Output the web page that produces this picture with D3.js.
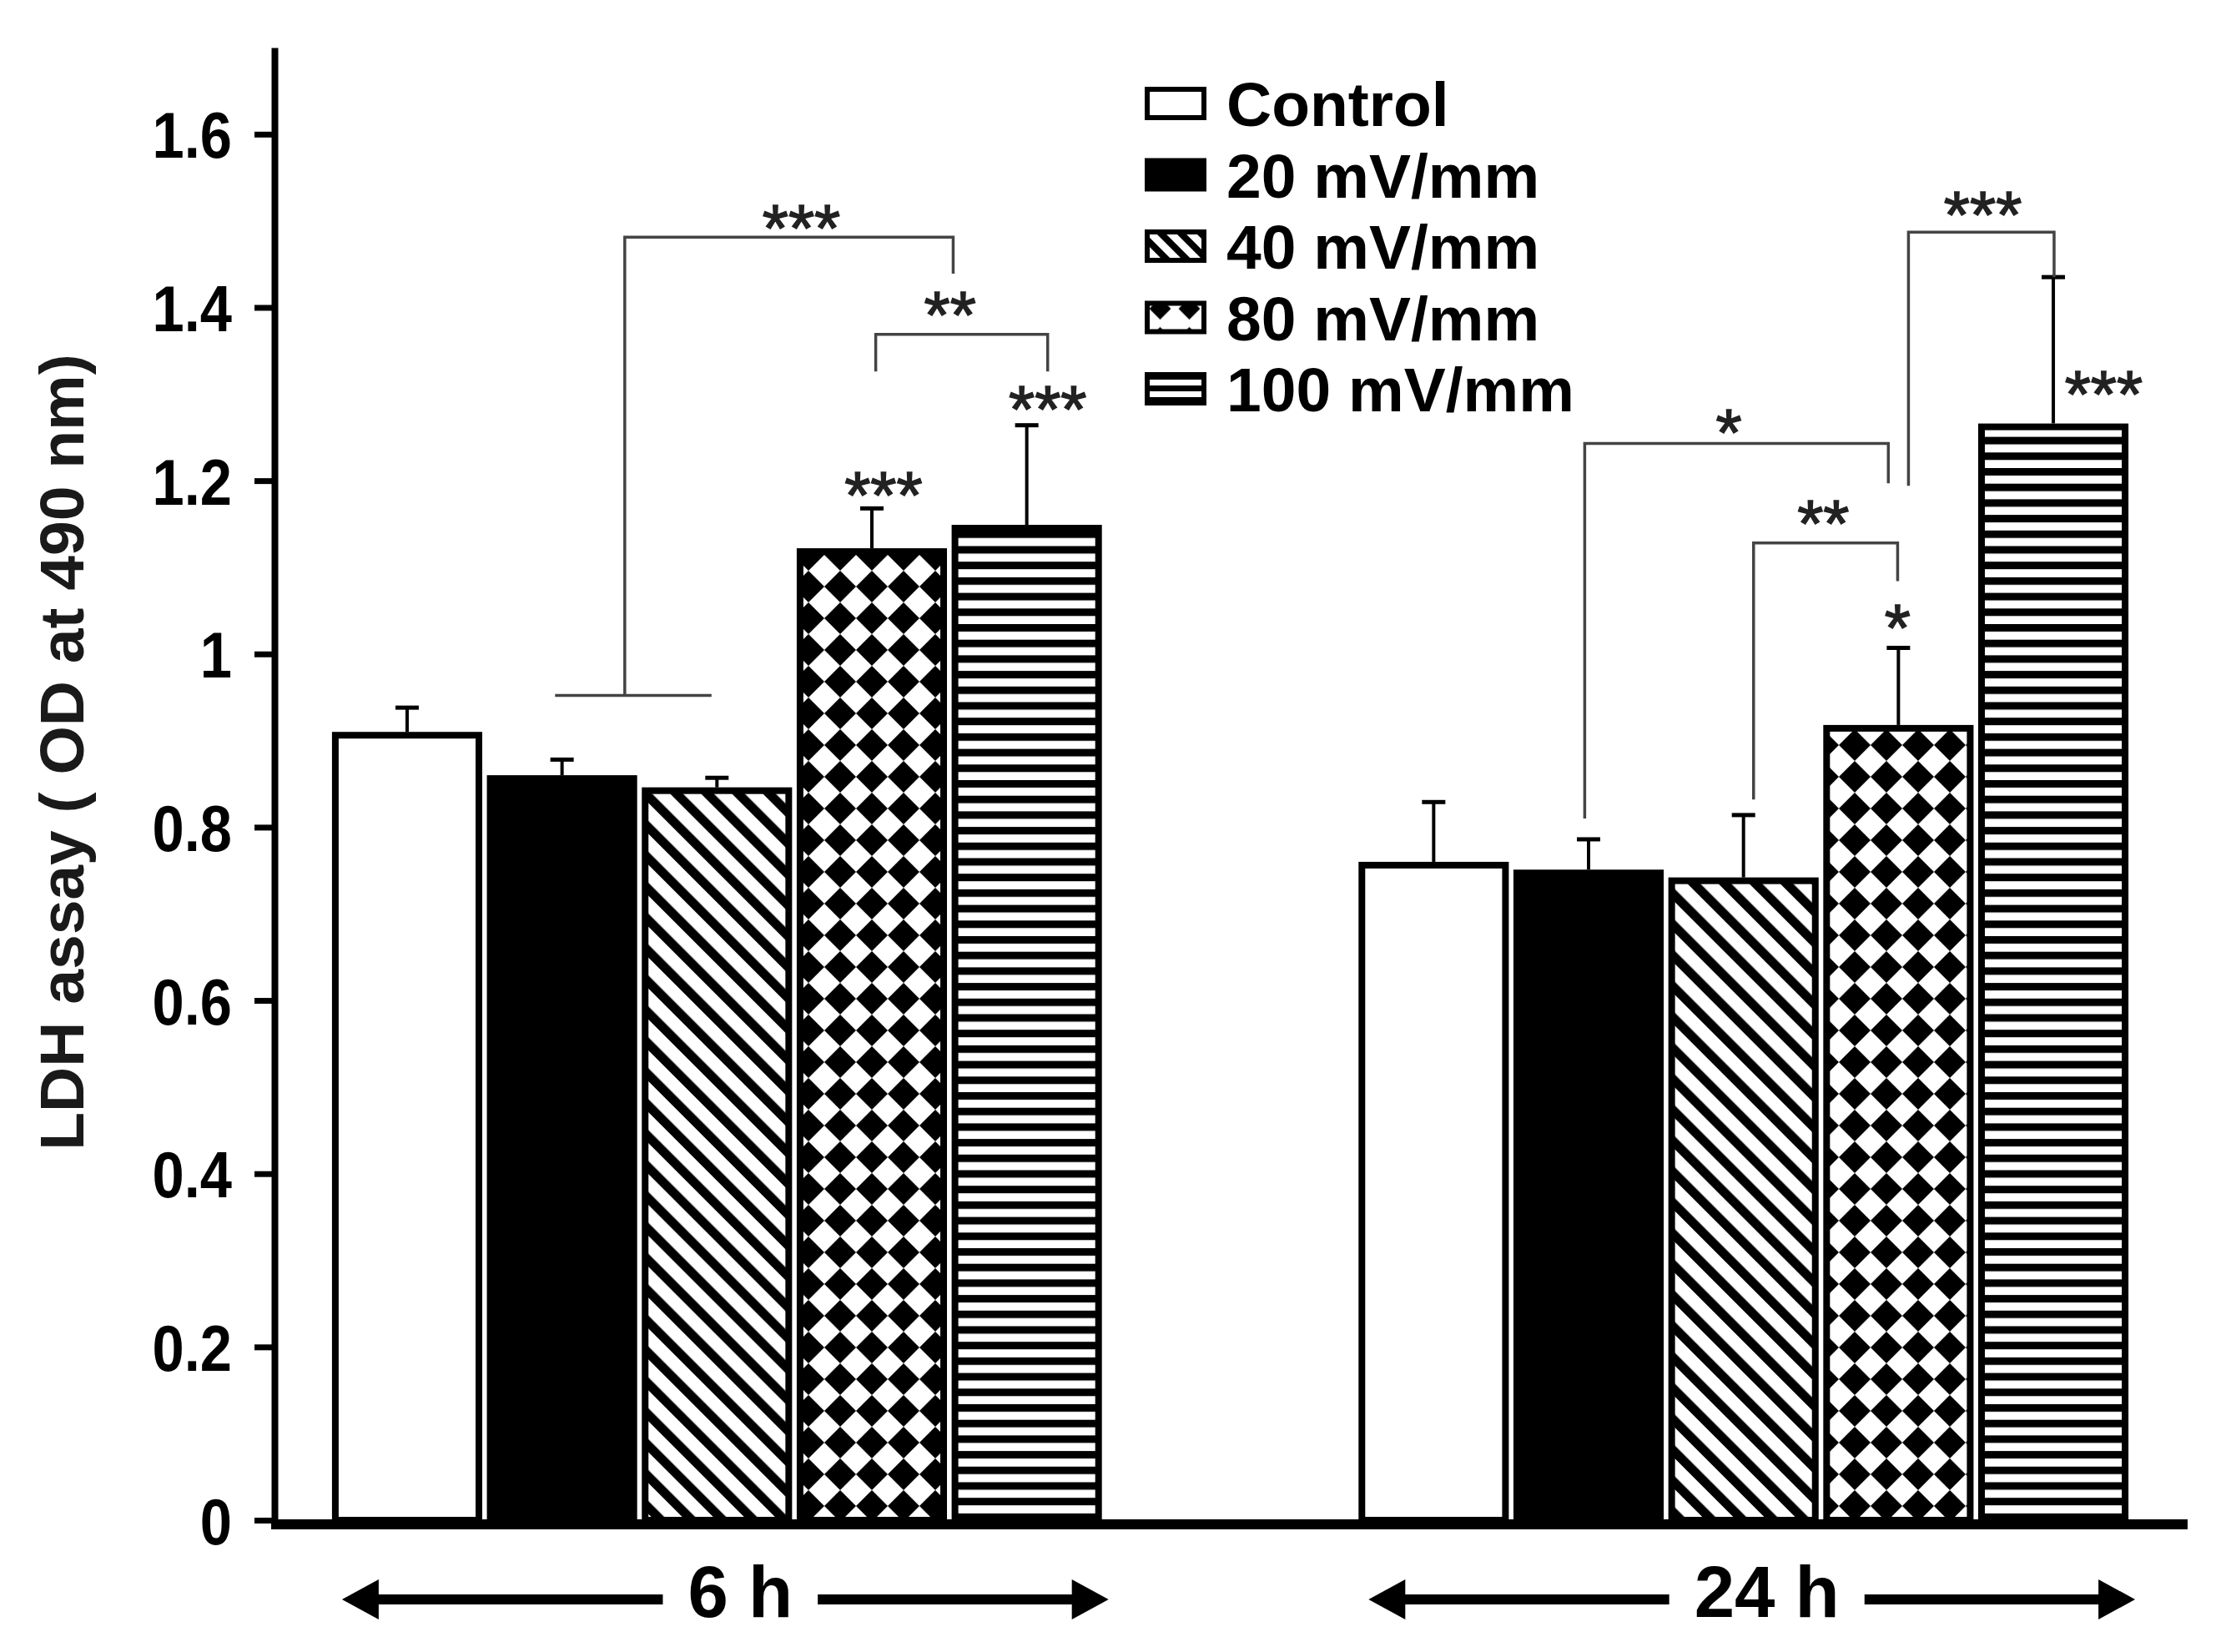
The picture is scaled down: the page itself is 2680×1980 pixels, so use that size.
<!DOCTYPE html>
<html>
<head>
<meta charset="utf-8">
<script src="https://cdn.jsdelivr.net/npm/d3@7"></script>
<style>
  html, body { margin: 0; padding: 0; background: #ffffff; }
  svg { display: block; }
  text { font-family: "Liberation Sans", Arial, Helvetica, sans-serif; }
</style>
</head>
<body>
<script>
// ---------------- DATA ----------------
const groups = ["6 h", "24 h"];
const series = ["Control", "20 mV/mm", "40 mV/mm", "80 mV/mm", "100 mV/mm"];
const values6h  = [0.910, 0.860, 0.846, 1.122, 1.149];
const errors6h  = [0.028, 0.018, 0.011, 0.046, 0.115];
const values24h = [0.760, 0.751, 0.742, 0.918, 1.266];
const errors24h = [0.069, 0.035, 0.072, 0.089, 0.169];
const yTicks = [0, 0.2, 0.4, 0.6, 0.8, 1.0, 1.2, 1.4, 1.6];
const yTickLabels = ["0", "0.2", "0.4", "0.6", "0.8", "1", "1.2", "1.4", "1.6"];
const yLabel = "LDH assay ( OD at 490 nm)";

// significance brackets: x in bar-slot units within group, y in data units
const brackets = [
  { group: "6 h",  xL: 1.89, xR: 4.01, yTop: 1.481, yL: 0.952, yR: 1.439 },
  { group: "6 h",  xL: 3.51, xR: 4.62, yTop: 1.369, yL: 1.326, yR: 1.326 },
  { group: "24 h", xL: 1.46, xR: 3.42, yTop: 1.243, yL: 0.810, yR: 1.197 },
  { group: "24 h", xL: 2.55, xR: 3.48, yTop: 1.128, yL: 0.832, yR: 1.084 },
  { group: "24 h", xL: 3.55, xR: 4.49, yTop: 1.487, yL: 1.194, yR: 1.435 }
];
// horizontal group line under the big 6 h bracket
const groupLines = [ { group: "6 h", x1: 1.44, x2: 2.45, y: 0.952 } ];
// star labels
const stars = [
  { group: "6 h",  x: 3.03, y: 1.509, t: "***" },
  { group: "6 h",  x: 3.99, y: 1.409, t: "**" },
  { group: "6 h",  x: 3.56, y: 1.201, t: "***" },
  { group: "6 h",  x: 4.62, y: 1.300, t: "***" },
  { group: "24 h", x: 2.39, y: 1.273, t: "*" },
  { group: "24 h", x: 3.00, y: 1.168, t: "**" },
  { group: "24 h", x: 3.48, y: 1.048, t: "*" },
  { group: "24 h", x: 4.03, y: 1.524, t: "***" },
  { group: "24 h", x: 4.81, y: 1.317, t: "***" }
];

const data = [];
groups.forEach((g, gi) => {
  const vals = gi === 0 ? values6h : values24h;
  const errs = gi === 0 ? errors6h : errors24h;
  series.forEach((s, si) => data.push({ group: g, series: s, si, value: vals[si], err: errs[si] }));
});

// ---------------- LAYOUT ----------------
const W = 2680, H = 1980;
const svg = d3.select("body").append("svg").attr("width", W).attr("height", H)
  .attr("viewBox", `0 0 ${W} ${H}`);
svg.append("rect").attr("width", W).attr("height", H).attr("fill", "#fff");

const axisX = 329;
const x0 = d3.scaleBand().domain(groups).range([axisX, 2620]).paddingInner(0.25).paddingOuter(0.056);
const x1 = d3.scaleBand().domain(series).range([0, x0.bandwidth()]).paddingInner(0.03);
const y = d3.scaleLinear().domain([0, 1.7]).range([1822, 57]);
const xp = (g, p) => x0(g) + p * x1.step();

// ---------------- PATTERNS ----------------
const defs = svg.append("defs");
function stripePattern(id, period, black, angle) {
  const p = defs.append("pattern").attr("id", id).attr("patternUnits", "userSpaceOnUse")
    .attr("width", period).attr("height", period).attr("patternTransform", `rotate(${angle})`);
  p.append("rect").attr("width", period).attr("height", period).attr("fill", "#fff");
  p.append("rect").attr("width", black).attr("height", period).attr("fill", "#000");
}
function hStripePattern(id, period, black, offY) {
  const p = defs.append("pattern").attr("id", id).attr("patternUnits", "userSpaceOnUse")
    .attr("width", 20).attr("height", period).attr("y", offY || 0);
  p.append("rect").attr("width", 20).attr("height", period).attr("fill", "#fff");
  p.append("rect").attr("width", 20).attr("height", black).attr("fill", "#000");
}
function diamondPattern(id, period, half, offX, offY) {
  const p = defs.append("pattern").attr("id", id).attr("patternUnits", "userSpaceOnUse")
    .attr("width", period).attr("height", period).attr("x", offX || 0).attr("y", offY || 0);
  p.append("rect").attr("width", period).attr("height", period).attr("fill", "#fff");
  const c = period / 2;
  p.append("polygon").attr("fill", "#000")
    .attr("points", `${c},${c - half} ${c + half},${c} ${c},${c + half} ${c - half},${c}`);
}
stripePattern("hatch", 26.2, 11, -45);
diamondPattern("diamond", 38, 19, 0, 0);
hStripePattern("hstripe", 18.7, 9, 0);
// legend versions
stripePattern("hatchL", 17, 8, -45);
hStripePattern("hstripeL", 14, 7, 0);

const fills = {
  "Control": "#fff",
  "20 mV/mm": "#000",
  "40 mV/mm": "url(#hatch)",
  "80 mV/mm": "url(#diamond)",
  "100 mV/mm": "url(#hstripe)"
};
const legendFills = {
  "Control": "#fff",
  "20 mV/mm": "#000",
  "40 mV/mm": "url(#hatchL)",
  "80 mV/mm": "url(#diamondL)",
  "100 mV/mm": "url(#hstripeL)"
};

// ---------------- BARS ----------------
const bw = x1.bandwidth();
const sw = 8;
svg.append("g").selectAll("rect").data(data).join("rect")
  .attr("x", d => x0(d.group) + x1(d.series) + sw / 2)
  .attr("y", d => y(d.value) + sw / 2)
  .attr("width", bw - sw)
  .attr("height", d => y(0) - y(d.value) - sw / 2)
  .attr("fill", d => fills[d.series])
  .attr("stroke", "#000").attr("stroke-width", sw);

// error bars
const eg = svg.append("g").attr("stroke", "#000");
eg.selectAll("line.v").data(data).join("line").attr("class", "v")
  .attr("x1", d => x0(d.group) + x1(d.series) + bw / 2)
  .attr("x2", d => x0(d.group) + x1(d.series) + bw / 2)
  .attr("y1", d => y(d.value)).attr("y2", d => y(d.value + d.err))
  .attr("stroke-width", 4);
eg.selectAll("line.c").data(data).join("line").attr("class", "c")
  .attr("x1", d => x0(d.group) + x1(d.series) + bw / 2 - 14)
  .attr("x2", d => x0(d.group) + x1(d.series) + bw / 2 + 14)
  .attr("y1", d => y(d.value + d.err)).attr("y2", d => y(d.value + d.err))
  .attr("stroke-width", 5);

// ---------------- AXES ----------------
const yAxis = d3.axisLeft(y).tickValues(yTicks).tickFormat((d, i) => yTickLabels[i])
  .tickSize(24).tickPadding(27).tickSizeOuter(0);
const ga = svg.append("g").attr("transform", `translate(${axisX},0)`).call(yAxis);
ga.select(".domain").attr("stroke", "#000").attr("stroke-width", 8);
ga.selectAll(".tick line").attr("stroke", "#000").attr("stroke-width", 7);
ga.selectAll(".tick text")
  .attr("fill", "#000").attr("font-size", 78).attr("font-weight", "bold")
  .attr("font-family", "'Liberation Sans', Arial, sans-serif")
  .attr("dy", "0.36em")
  .each(function () {
    const w = this.getComputedTextLength();
    this.setAttribute("textLength", (w * 0.88).toFixed(1));
    this.setAttribute("lengthAdjust", "spacingAndGlyphs");
  });

// x axis baseline
svg.append("line").attr("x1", axisX - 4).attr("x2", 2622)
  .attr("y1", y(0) + 5).attr("y2", y(0) + 5)
  .attr("stroke", "#000").attr("stroke-width", 12);

// y label
svg.append("text")
  .attr("transform", `translate(100,${(y(0) + y(1.7)) / 2 - 38}) rotate(-90)`)
  .attr("text-anchor", "middle").attr("font-size", 75).attr("font-weight", "bold")
  .attr("fill", "#1a1a1a").text(yLabel);

// ---------------- GROUP LABELS WITH ARROWS ----------------
const arrowY = 1917;
groups.forEach(g => {
  const left = x0(g) + 12, right = x0(g) + x0.bandwidth() + 8;
  const cx = x0(g) + x0.bandwidth() / 2 + 28;
  const t = svg.append("text").attr("x", cx).attr("y", 1938).attr("text-anchor", "middle")
    .attr("font-size", 87).attr("font-weight", "bold").attr("fill", "#000").text(g);
  const hw = t.node().getComputedTextLength() / 2;
  const gap = 30, head = 44, hh = 24;
  svg.append("line").attr("x1", left + head - 4).attr("x2", cx - hw - gap)
    .attr("y1", arrowY).attr("y2", arrowY).attr("stroke", "#000").attr("stroke-width", 12);
  svg.append("line").attr("x1", cx + hw + gap).attr("x2", right - head + 4)
    .attr("y1", arrowY).attr("y2", arrowY).attr("stroke", "#000").attr("stroke-width", 12);
  svg.append("path").attr("fill", "#000")
    .attr("d", `M${left},${arrowY} L${left + head},${arrowY - hh} L${left + head},${arrowY + hh} Z`);
  svg.append("path").attr("fill", "#000")
    .attr("d", `M${right},${arrowY} L${right - head},${arrowY - hh} L${right - head},${arrowY + hh} Z`);
});

// ---------------- SIGNIFICANCE ----------------
const sg = svg.append("g").attr("fill", "none").attr("stroke", "#444").attr("stroke-width", 3.5);
sg.selectAll("path").data(brackets).join("path")
  .attr("d", b => `M${xp(b.group, b.xL)},${y(b.yL)} V${y(b.yTop)} H${xp(b.group, b.xR)} V${y(b.yR)}`);
sg.selectAll("line").data(groupLines).join("line")
  .attr("x1", d => xp(d.group, d.x1)).attr("x2", d => xp(d.group, d.x2))
  .attr("y1", d => y(d.y)).attr("y2", d => y(d.y));

const starFs = 80;
svg.append("g").selectAll("text").data(stars).join("text")
  .attr("x", d => xp(d.group, d.x))
  .attr("y", d => y(d.y) + 0.57 * starFs)
  .attr("text-anchor", "middle").attr("font-size", starFs).attr("font-weight", "normal")
  .attr("fill", "#222").attr("stroke", "#222").attr("stroke-width", 1.5).text(d => d.t);

// ---------------- LEGEND ----------------
const legX = 1372, legY0 = 124, legStep = 85.5, boxW = 74, boxH = 40;
// legend diamond pattern aligned to its box
diamondPattern("diamondL", 35, 13, legX + 1, legY0 + 3 * legStep + 7);
const lg = svg.append("g");
series.forEach((s, i) => {
  const cy = legY0 + i * legStep;
  lg.append("rect").attr("x", legX + 3).attr("y", cy - boxH / 2 + 3)
    .attr("width", boxW - 6).attr("height", boxH - 6)
    .attr("fill", legendFills[s]).attr("stroke", "#000").attr("stroke-width", 6);
  lg.append("text").attr("x", legX + 98).attr("y", cy + 27)
    .attr("font-size", 75).attr("font-weight", "bold").attr("fill", "#000").text(s);
});
</script>
</body>
</html>
